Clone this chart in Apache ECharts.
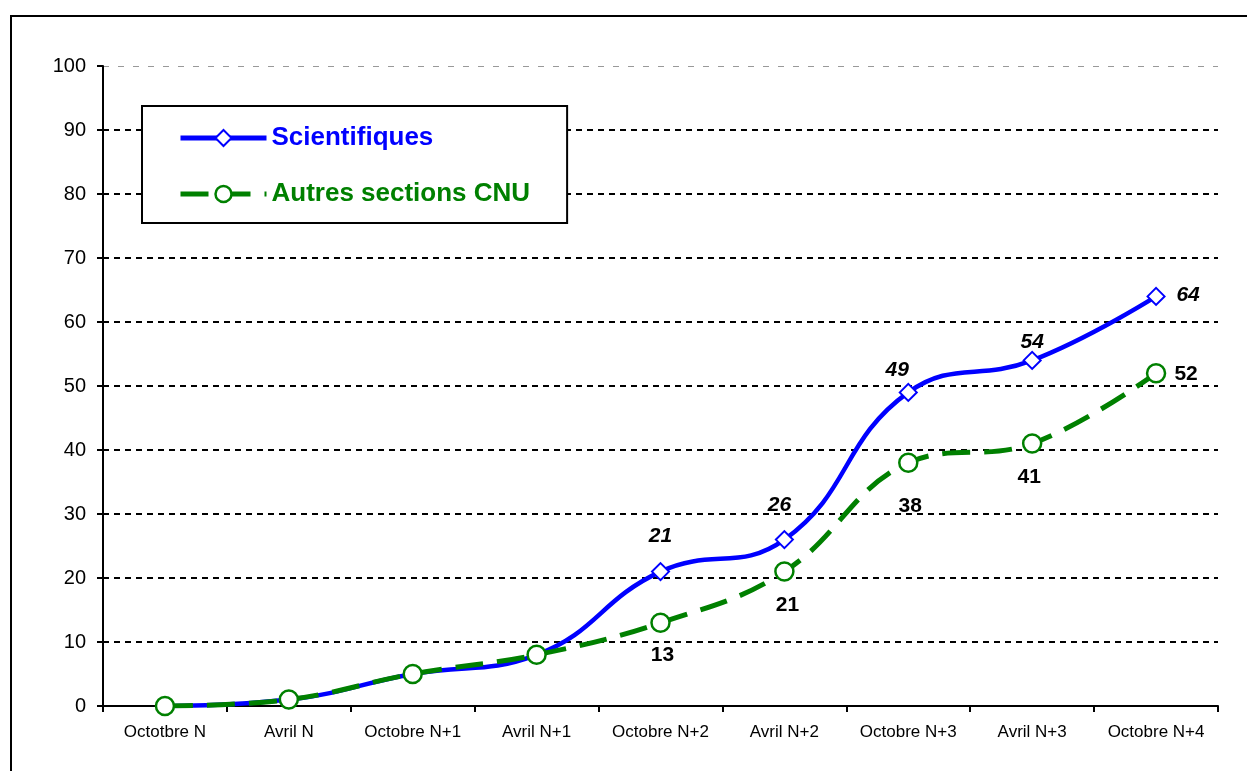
<!DOCTYPE html>
<html>
<head>
<meta charset="utf-8">
<script src="https://cdn.jsdelivr.net/npm/echarts@6/dist/echarts.min.js"></script>
<style>
  html, body { margin: 0; padding: 0; background: #fff; }
  #chart { width: 1247px; height: 771px; }
</style>
</head>
<body>
<div id="chart"></div>
<script>
// catégories (le libellé d'origine contient bien "Octotbre N")
const categories = ['Octotbre N', 'Avril N', 'Octobre N+1', 'Avril N+1', 'Octobre N+2',
  'Avril N+2', 'Octobre N+3', 'Avril N+3', 'Octobre N+4']
const scientifiques = [0, 1, 5, 8, 21, 26, 49, 54, 64]
const autresCnu = [0, 1, 5, 8, 13, 21, 38, 41, 52]
const yTicks = [0, 10, 20, 30, 40, 50, 60, 70, 80, 90, 100]

// décalage des étiquettes (null = pas d'étiquette)
const blueOffsets = [null, null, null, null, [0, -35], [-5, -34], [-11, -22], [0, -18], [32, -1]]
const greenOffsets = [null, null, null, null, [2, 32], [3, 34], [2, 43], [-3, 34], [30, 1]]

function withLabels (values, offsets, italic) {
  return values.map((v, i) => {
    const off = offsets[i]
    if (!off) return { value: v, label: { show: false } }
    return {
      value: v,
      label: {
        show: true,
        position: 'inside',
        offset: off,
        color: '#000',
        fontSize: 21,
        fontWeight: 'bold',
        fontStyle: italic ? 'italic' : 'normal',
        fontFamily: 'Liberation Sans, Arial, sans-serif'
      }
    }
  })
}

const chart = echarts.init(document.getElementById('chart'))
const option = {
  animation: false,
  textStyle: { fontFamily: 'Liberation Sans, Arial, sans-serif' },
  graphic: [
    {
      // cadre extérieur (bords gauche et haut visibles)
      type: 'polyline',
      shape: { points: [[11, 771], [11, 16], [1247, 16]] },
      style: { stroke: '#000', lineWidth: 2, fill: null },
      silent: true
    }
  ],
  grid: { left: 103, right: 29, top: 66, bottom: 65 },
  legend: {
    orient: 'vertical',
    left: 142,
    top: 106,
    padding: [17, 37, 14, 36],
    itemGap: 26,
    itemWidth: 86,
    itemHeight: 20,
    backgroundColor: '#fff',
    borderColor: '#000',
    borderWidth: 2,
    textStyle: { fontSize: 26, fontWeight: 'bold', lineHeight: 30 },
    data: [
      {
        name: 'Scientifiques',
        textStyle: { color: '#0000ff' },
        lineStyle: { width: 5 },
        itemStyle: { borderWidth: 2 }
      },
      {
        name: 'Autres sections CNU',
        textStyle: { color: '#008000' },
        lineStyle: { width: 5 },
        itemStyle: { borderWidth: 2.5 }
      }
    ]
  },
  xAxis: {
    type: 'category',
    data: categories,
    boundaryGap: true,
    axisLine: { lineStyle: { color: '#000', width: 2 } },
    axisTick: { show: true, length: 6, lineStyle: { color: '#000', width: 2 } },
    axisLabel: { color: '#000', fontSize: 17, margin: 18, interval: 0 },
    splitLine: { show: false }
  },
  yAxis: [
    {
      type: 'value',
      min: 0,
      max: 100,
      interval: 10,
      axisLine: { show: true, lineStyle: { color: '#000', width: 2 } },
      axisTick: { show: true, length: 6, lineStyle: { color: '#000', width: 2 } },
      axisLabel: {
        color: '#000',
        fontSize: 20,
        margin: 17,
        formatter: v => (yTicks.includes(v) ? String(v) : '')
      },
      splitLine: {
        show: true,
        lineStyle: {
          color: ['#000', '#000', '#000', '#000', '#000', '#000', '#000', '#000', '#000', '#000', 'rgba(0,0,0,0)'],
          width: 2,
          type: [6, 5]
        }
      }
    },
    {
      // ligne grise à 100
      type: 'value',
      min: 0,
      max: 100,
      interval: 100,
      position: 'left',
      axisLine: { show: false },
      axisTick: { show: false },
      axisLabel: { show: false },
      splitLine: { show: true, lineStyle: { color: '#999', width: 1, type: [6, 9] } }
    }
  ],
  series: [
    {
      name: 'Scientifiques',
      type: 'line',
      smooth: 0.45,
      data: withLabels(scientifiques, blueOffsets, true),
      symbol: 'diamond',
      symbolSize: 17,
      lineStyle: { color: '#0000ff', width: 4.5 },
      itemStyle: { color: '#fff', borderColor: '#0000ff', borderWidth: 2 },
      z: 3
    },
    {
      name: 'Autres sections CNU',
      type: 'line',
      smooth: 0.4,
      data: withLabels(autresCnu, greenOffsets, false),
      symbol: 'circle',
      symbolSize: 18,
      lineStyle: { color: '#008000', width: 5, type: [28, 14] },
      itemStyle: { color: '#fff', borderColor: '#008000', borderWidth: 2.5 },
      z: 4
    }
  ]
}
chart.setOption(option)
</script>
</body>
</html>
